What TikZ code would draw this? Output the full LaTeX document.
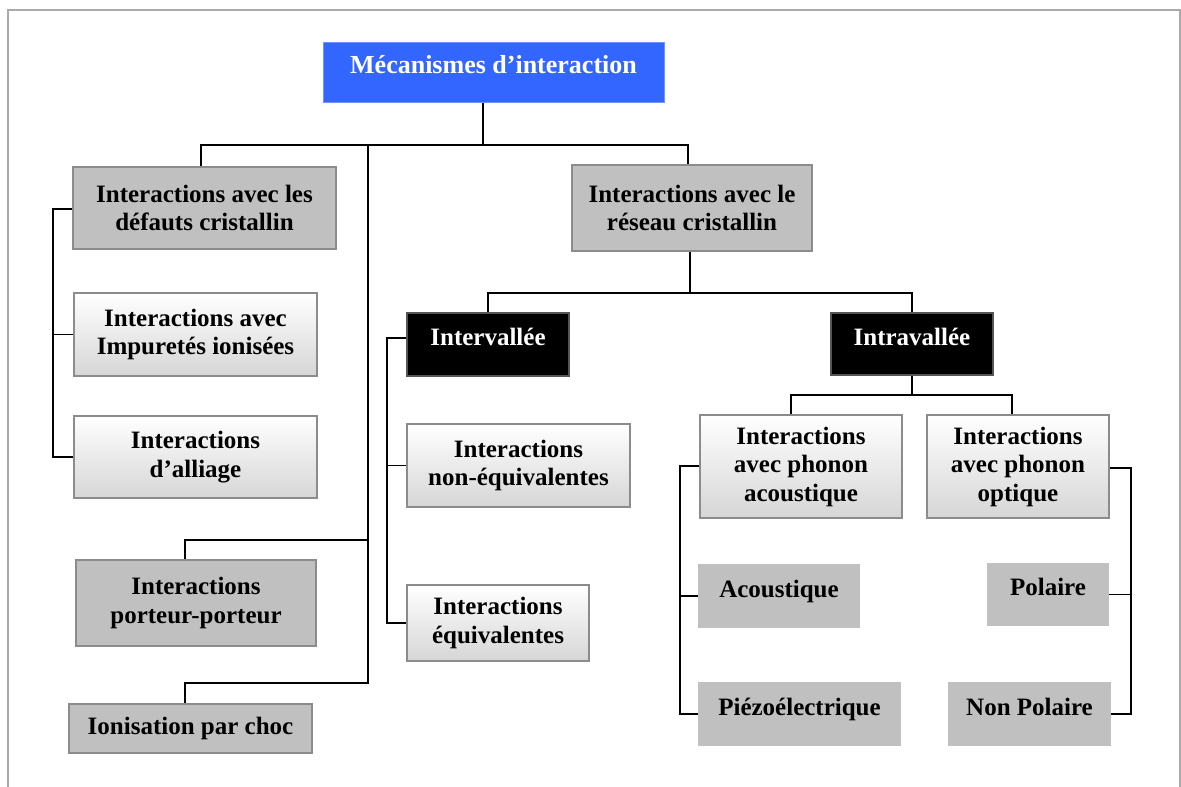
\documentclass[tikz,border=0pt]{standalone}
\usepackage{fontspec}
\setmainfont{Liberation Serif}
\definecolor{boxgray}{HTML}{C0C0C0}
\definecolor{boxedge}{HTML}{8C8C8C}
\definecolor{shadebot}{HTML}{D6D6D6}
\definecolor{titleblue}{HTML}{3366FF}
\definecolor{titleedge}{HTML}{6F93FF}
\definecolor{darkedge}{HTML}{555555}
\definecolor{framegray}{HTML}{AAAAAA}
\begin{document}
\begin{tikzpicture}[x=1pt,y=-1pt,
  every node/.style={font=\bfseries\fontsize{25}{28.5}\selectfont, align=center, inner sep=0pt},
  wh/.style 2 args={rectangle, minimum width=#1pt, minimum height=#2pt},
  graybox/.style={draw=boxedge, line width=1.3pt, fill=boxgray},
  shadebox/.style={draw=boxedge, line width=1.3pt, top color=white, bottom color=shadebot},
  flatbox/.style={fill=boxgray},
  darkbox/.style={fill=black, draw=darkedge, line width=1.3pt, text=white},
  titlebox/.style={fill=titleblue, draw=titleedge, line width=1pt, text=white,
    font=\bfseries\fontsize{26}{30}\selectfont},
  raised/.style={text height=17pt, text depth=15pt},
  wire/.style={line width=1.3pt, draw=black}
]
\useasboundingbox (0,0) rectangle (1181,787);
\fill[white] (0,0) rectangle (1181,787);

% outer frame, open at the bottom
\draw[framegray, line width=2pt] (8,790) -- (8,10) -- (1180,10) -- (1180,790);

% boxes
\node[wh={341}{60}, titlebox, raised] (title) at (493.5,72) {Mécanismes d’interaction};

\node[wh={263}{82}, graybox] (defauts) at (204.5,208) {Interactions avec les\\défauts cristallin};
\node[wh={243}{83}, shadebox] (impuretes) at (195.5,334.5) {Interactions avec\\Impuretés ionisées};
\node[wh={243}{82}, shadebox] (alliage) at (195.5,457) {Interactions\\d’alliage};
\node[wh={240}{86}, graybox] (porteur) at (196,603) {Interactions\\porteur-porteur};
\node[wh={243}{49}, graybox] (ionisation) at (190.5,728.5) {Ionisation par choc};

\node[wh={240}{86}, graybox] (reseau) at (692,208) {Interactions avec le\\réseau cristallin};
\node[wh={162}{63}, darkbox, raised] (intervallee) at (488,344.5) {Intervallée};
\node[wh={162}{62}, darkbox, raised] (intravallee) at (912,344) {Intravallée};

\node[wh={223}{83}, shadebox] (nonequiv) at (518.5,465.5) {Interactions\\non-équivalentes};
\node[wh={182}{76}, shadebox] (equiv) at (498,623) {Interactions\\équivalentes};

\node[wh={202}{103}, shadebox] (phac) at (801,466.5) {Interactions\\avec phonon\\acoustique};
\node[wh={182}{103}, shadebox] (phop) at (1018,466.5) {Interactions\\avec phonon\\optique};

\node[wh={162}{64}, flatbox, raised] (acoustique) at (779,596) {Acoustique};
\node[wh={203}{64}, flatbox, raised] (piezo) at (799.5,714) {Piézoélectrique};
\node[wh={122}{63}, flatbox, raised] (polaire) at (1048,594.5) {Polaire};
\node[wh={163}{64}, flatbox, raised] (nonpolaire) at (1029.5,714) {Non Polaire};

% junction points
\coordinate (top) at (483,145);
\coordinate (jl) at (201,145);
\coordinate (jr) at (688,145);
\coordinate (trunk) at (368,145);
\coordinate (pk) at (185,540);
\coordinate (ik) at (185,683);
\coordinate (dl) at (53,209);
\coordinate (rb) at (690,293);
\coordinate (vl) at (387,338);
\coordinate (ib) at (912,395);
\coordinate (ia) at (791,395);
\coordinate (io) at (1012,395);
\coordinate (al) at (680,466);
\coordinate (orr) at (1131,468);

% connectors
\draw[wire] (title.south -| top) -- (top);
\draw[wire] (defauts.north -| jl) -- (jl) -- (jr) -- (reseau.north -| jr);
\draw[wire] (trunk) |- (ik) -- (ionisation.north -| ik);
\draw[wire] (trunk |- pk) -- (pk) -- (porteur.north -| pk);

\draw[wire] (defauts.west |- dl) -- (dl) |- (alliage.west);
\draw[wire] (dl |- impuretes.west) -- (impuretes.west);

\draw[wire] (reseau.south -| rb) -- (rb);
\draw[wire] (intervallee.north) -- (intervallee.north |- rb) -- (intravallee.north |- rb) -- (intravallee.north);

\draw[wire] (intervallee.west |- vl) -- (vl) |- (equiv.west);
\draw[wire] (vl |- nonequiv.west) -- (nonequiv.west);

\draw[wire] (intravallee.south) -- (ib);
\draw[wire] (phac.north -| ia) -- (ia) -- (io) -- (phop.north -| io);

\draw[wire] (phac.west |- al) -- (al) |- (piezo.west);
\draw[wire] (al |- acoustique.west) -- (acoustique.west);

\draw[wire] (phop.east |- orr) -- (orr) |- (nonpolaire.east);
\draw[wire] (orr |- polaire.east) -- (polaire.east);
\end{tikzpicture}
\end{document}
